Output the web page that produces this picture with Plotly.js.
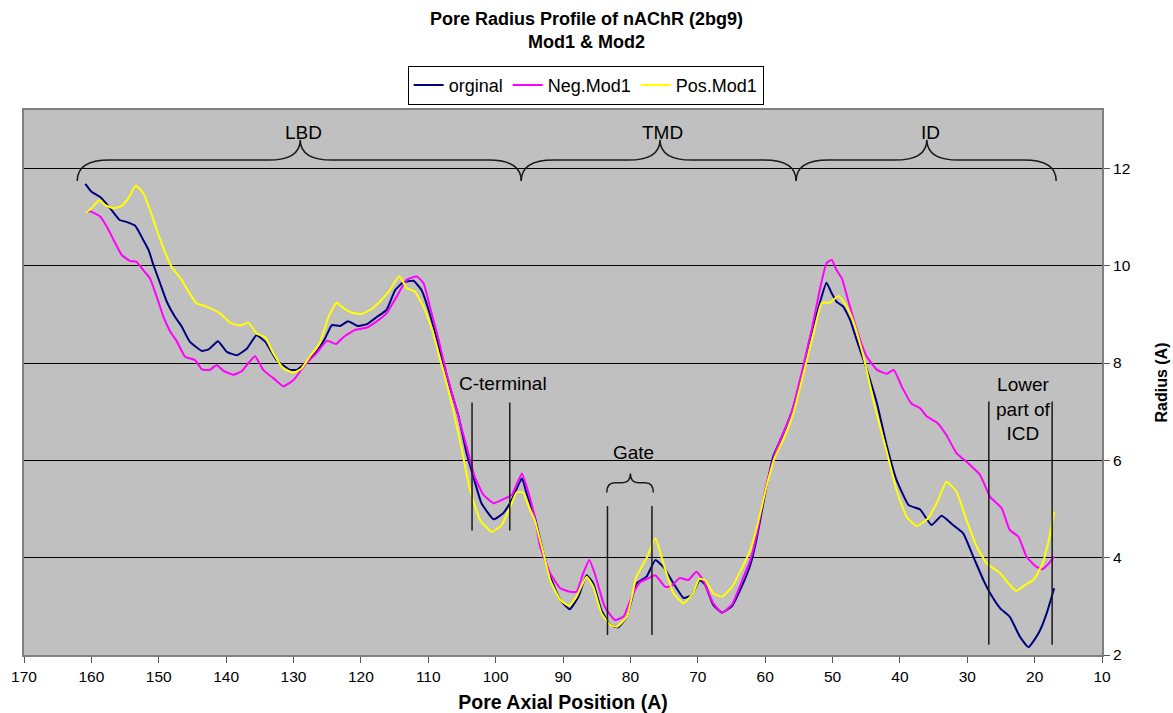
<!DOCTYPE html>
<html>
<head>
<meta charset="utf-8">
<script src="https://cdn.plot.ly/plotly-3.0.1.min.js"></script>
<style>
  html, body { margin: 0; padding: 0; background: #ffffff; }
  #chart { width: 1173px; height: 713px; }
</style>
</head>
<body>
<div id="chart"></div>
<script>
// Pore radius (A) against pore axial position (A) for nAChR 2bg9 and two modified models.
const posOriginal = [160.9, 160.0, 158.7, 157.2, 155.8, 154.8, 153.5, 152.3, 151.5, 150.8, 149.8, 148.8, 147.6, 146.6, 145.4, 143.6, 142.6, 141.2, 139.9, 138.4, 136.9, 135.5, 134.2, 132.5, 130.5, 129.5, 128.0, 126.6, 125.3, 124.3, 123.1, 121.9, 120.4, 119.1, 117.6, 116.2, 114.9, 113.7, 112.2, 111.0, 109.7, 108.3, 106.8, 105.5, 104.3, 103.3, 102.1, 100.3, 98.9, 97.6, 96.1, 95.4, 94.2, 92.9, 91.9, 90.4, 89.0, 87.7, 86.5, 85.5, 84.3, 83.0, 81.8, 80.5, 79.1, 77.6, 76.3, 75.1, 73.6, 72.1, 70.9, 69.7, 68.9, 67.7, 66.4, 64.9, 63.5, 62.2, 61.2, 60.0, 58.8, 57.5, 56.1, 54.6, 53.4, 51.9, 50.9, 50.1, 49.4, 48.4, 47.4, 46.4, 44.9, 43.4, 41.9, 40.5, 38.7, 37.0, 35.3, 33.8, 32.1, 30.6, 29.1, 27.6, 26.6, 25.1, 23.7, 22.2, 20.9, 19.4, 18.2, 17.1];
const radOriginal = [11.68, 11.52, 11.41, 11.18, 10.94, 10.90, 10.82, 10.53, 10.32, 10.02, 9.64, 9.26, 8.95, 8.75, 8.44, 8.25, 8.28, 8.45, 8.23, 8.16, 8.30, 8.57, 8.44, 8.06, 7.86, 7.86, 8.03, 8.23, 8.51, 8.78, 8.76, 8.86, 8.76, 8.80, 8.95, 9.09, 9.50, 9.66, 9.69, 9.50, 8.98, 8.27, 7.51, 6.90, 6.14, 5.66, 5.12, 4.79, 4.91, 5.19, 5.63, 5.32, 4.84, 4.09, 3.61, 3.13, 2.94, 3.20, 3.64, 3.47, 2.92, 2.62, 2.57, 2.79, 3.47, 3.61, 3.95, 3.81, 3.47, 3.17, 3.23, 3.54, 3.44, 3.03, 2.87, 3.01, 3.40, 3.85, 4.43, 5.32, 6.08, 6.49, 6.97, 7.72, 8.47, 9.23, 9.65, 9.43, 9.26, 9.16, 8.89, 8.47, 7.86, 7.17, 6.28, 5.60, 5.08, 4.99, 4.67, 4.86, 4.67, 4.50, 4.02, 3.54, 3.27, 2.96, 2.79, 2.38, 2.16, 2.45, 2.86, 3.37];

const posNeg = [160.8, 160.0, 158.7, 157.7, 156.7, 155.5, 154.3, 153.3, 152.3, 151.3, 150.3, 149.3, 148.3, 147.3, 146.1, 144.6, 143.6, 142.4, 141.4, 140.4, 138.9, 137.7, 136.7, 135.7, 134.5, 133.0, 131.5, 130.0, 128.3, 126.6, 125.0, 123.7, 122.6, 120.9, 119.1, 117.7, 116.2, 114.7, 113.2, 111.7, 110.7, 109.5, 108.5, 107.3, 105.8, 104.3, 103.1, 101.8, 100.3, 98.9, 97.6, 96.1, 95.1, 94.2, 93.4, 91.9, 90.4, 89.0, 88.0, 87.0, 86.1, 85.3, 83.8, 82.3, 81.0, 79.8, 78.6, 77.3, 76.3, 74.8, 73.9, 72.7, 71.4, 70.2, 69.2, 67.7, 66.4, 64.9, 63.5, 62.2, 61.2, 60.0, 58.5, 57.3, 56.1, 54.6, 53.1, 51.9, 50.9, 50.1, 49.4, 48.6, 47.7, 46.4, 44.9, 43.4, 41.9, 40.9, 39.7, 38.3, 37.0, 36.0, 34.5, 33.1, 31.6, 30.1, 28.1, 26.6, 24.9, 23.7, 22.4, 21.2, 19.9, 18.9, 17.9, 17.1];
const radNeg = [11.11, 11.11, 11.01, 10.80, 10.53, 10.22, 10.10, 10.08, 9.91, 9.74, 9.36, 8.95, 8.65, 8.44, 8.13, 8.06, 7.87, 7.86, 7.96, 7.84, 7.76, 7.83, 8.00, 8.14, 7.86, 7.69, 7.52, 7.65, 7.96, 8.20, 8.46, 8.39, 8.53, 8.68, 8.73, 8.85, 9.02, 9.36, 9.71, 9.78, 9.64, 9.02, 8.50, 7.79, 7.04, 6.28, 5.66, 5.29, 5.12, 5.20, 5.29, 5.73, 5.32, 4.84, 4.23, 3.68, 3.37, 3.30, 3.30, 3.68, 3.95, 3.68, 2.99, 2.72, 2.79, 3.20, 3.49, 3.58, 3.64, 3.40, 3.42, 3.58, 3.54, 3.71, 3.54, 3.06, 2.87, 3.04, 3.50, 3.95, 4.50, 5.39, 6.15, 6.56, 6.97, 7.79, 8.68, 9.50, 10.05, 10.12, 9.91, 9.74, 9.30, 8.68, 8.13, 7.86, 7.78, 7.86, 7.51, 7.17, 7.07, 6.90, 6.78, 6.52, 6.15, 5.97, 5.70, 5.25, 5.02, 4.57, 4.43, 4.02, 3.83, 3.76, 3.88, 4.02];

const posPos = [160.8, 160.0, 158.8, 158.0, 156.7, 155.5, 154.5, 153.4, 152.3, 151.3, 150.3, 149.3, 148.1, 146.6, 145.9, 144.4, 142.9, 140.9, 139.4, 137.9, 136.7, 135.5, 134.2, 133.0, 131.5, 130.0, 128.8, 127.6, 126.1, 124.8, 123.6, 122.6, 121.4, 119.9, 118.4, 117.2, 115.7, 114.3, 113.2, 112.0, 110.7, 109.4, 108.3, 107.8, 106.3, 105.0, 103.8, 102.3, 100.6, 99.1, 97.9, 96.9, 95.9, 95.1, 94.2, 92.9, 91.9, 90.4, 89.1, 88.0, 86.5, 85.5, 84.3, 83.0, 82.0, 80.5, 79.1, 77.6, 76.3, 75.1, 73.6, 72.1, 70.7, 69.8, 68.9, 67.7, 66.4, 64.9, 63.5, 62.2, 61.2, 59.8, 58.5, 57.3, 55.8, 54.3, 52.8, 51.6, 50.4, 49.1, 47.9, 46.9, 45.4, 43.7, 41.9, 40.5, 39.0, 37.5, 35.8, 34.3, 33.1, 31.6, 30.1, 28.6, 27.1, 25.1, 23.7, 22.7, 21.4, 20.2, 18.9, 17.9, 17.1];
const radPos = [11.09, 11.18, 11.35, 11.25, 11.18, 11.23, 11.39, 11.65, 11.49, 11.15, 10.74, 10.36, 9.98, 9.71, 9.54, 9.23, 9.16, 9.02, 8.83, 8.77, 8.83, 8.61, 8.53, 8.20, 7.89, 7.80, 7.89, 8.13, 8.41, 8.95, 9.24, 9.13, 9.04, 9.01, 9.11, 9.26, 9.50, 9.79, 9.54, 9.47, 9.16, 8.68, 8.10, 7.86, 7.04, 6.21, 5.39, 4.77, 4.53, 4.67, 5.02, 5.34, 5.34, 5.05, 4.77, 4.09, 3.54, 3.13, 3.01, 3.20, 3.61, 3.40, 2.86, 2.62, 2.58, 2.79, 3.61, 3.99, 4.40, 3.88, 3.27, 3.06, 3.27, 3.56, 3.54, 3.27, 3.20, 3.40, 3.77, 4.16, 4.64, 5.46, 6.08, 6.42, 6.97, 7.79, 8.61, 9.24, 9.24, 9.38, 9.16, 8.85, 8.13, 7.10, 6.15, 5.39, 4.84, 4.65, 4.81, 5.19, 5.56, 5.36, 4.77, 4.23, 3.88, 3.68, 3.44, 3.32, 3.44, 3.54, 3.85, 4.36, 4.95];

const seriesNames = ['orginal', 'Neg.Mod1', 'Pos.Mod1'];
const seriesColors = ['#000080', '#FF00FF', '#FFFF00'];
const xTicks = [170, 160, 150, 140, 130, 120, 110, 100, 90, 80, 70, 60, 50, 40, 30, 20, 10];
const yTicks = [2, 4, 6, 8, 10, 12];

const FONT = 'Liberation Sans, Arial, Helvetica, sans-serif';

const traces = [
  [posOriginal, radOriginal],
  [posNeg, radNeg],
  [posPos, radPos]
].map(([x, y], i) => ({
  type: 'scatter',
  mode: 'lines',
  x: x,
  y: y,
  name: seriesNames[i],
  line: { color: seriesColors[i], width: 2, shape: 'spline', smoothing: 0.4 },
  hoverinfo: 'x+y+name'
}));

// Horizontal curly brace in data units; the axis runs from high to low values.
function brace(xa, xb, xc, yEnd, yBar, yTip, r) {
  return `M ${xa},${yEnd} Q ${xa},${yBar} ${xa - r},${yBar} ` +
         `L ${xc + r},${yBar} Q ${xc},${yBar} ${xc},${yTip} ` +
         `Q ${xc},${yBar} ${xc - r},${yBar} ` +
         `L ${xb + r},${yBar} Q ${xb},${yBar} ${xb},${yEnd}`;
}

const braceLine = { color: '#1a1a1a', width: 1.5 };
const markLine = { color: '#1a1a1a', width: 1.5 };

function vline(x, y0, y1) {
  return { type: 'line', xref: 'x', yref: 'y', x0: x, x1: x, y0: y0, y1: y1, line: markLine };
}

const shapes = [
  { type: 'path', xref: 'x', yref: 'y', path: brace(162.1, 96.2, 129.0, 11.74, 12.17, 12.59, 4.8), line: braceLine },
  { type: 'path', xref: 'x', yref: 'y', path: brace(96.2, 55.4, 75.6, 11.74, 12.17, 12.59, 4.8), line: braceLine },
  { type: 'path', xref: 'x', yref: 'y', path: brace(55.4, 16.8, 36.0, 11.74, 12.17, 12.59, 4.8), line: braceLine },
  { type: 'path', xref: 'x', yref: 'y', path: brace(83.5, 76.6, 80.0, 5.34, 5.54, 5.73, 1.2), line: braceLine },
  vline(103.5, 4.56, 7.19), vline(97.9, 4.56, 7.19),
  vline(83.4, 2.41, 5.06), vline(76.8, 2.41, 5.06),
  vline(26.8, 2.21, 7.21), vline(17.4, 2.21, 7.21)
];

function label(text, x, y) {
  return { text: text, x: x, y: y, xref: 'x', yref: 'y', showarrow: false,
           font: { family: FONT, size: 19, color: '#000000' } };
}

const annotations = [
  label('LBD', 128.5, 12.73),
  label('TMD', 75.3, 12.73),
  label('ID', 35.4, 12.73),
  label('C-terminal', 98.9, 7.58),
  label('Gate', 79.6, 6.17),
  label('Lower<br>part of<br>ICD', 21.7, 7.06)
];

const layout = {
  width: 1173,
  height: 713,
  margin: { l: 24, r: 71, t: 110, b: 58 },
  paper_bgcolor: '#ffffff',
  plot_bgcolor: '#C0C0C0',
  font: { family: FONT, color: '#000000' },
  title: {
    text: '<b>Pore Radius Profile of nAChR (2bg9)<br>Mod1 & Mod2</b>',
    font: { family: FONT, size: 18, color: '#000000' },
    x: 0.5, xanchor: 'center',
    y: 0.965, yanchor: 'top', yref: 'container'
  },
  showlegend: true,
  legend: {
    orientation: 'h',
    x: 0.521, xanchor: 'center',
    y: 1.081, yanchor: 'top',
    bgcolor: '#ffffff',
    bordercolor: '#000000',
    borderwidth: 1,
    font: { family: FONT, size: 18, color: '#000000' },
    traceorder: 'normal'
  },
  xaxis: {
    range: [170, 10],
    tickmode: 'array',
    tickvals: xTicks,
    ticktext: xTicks.map(String),
    ticks: 'outside',
    ticklen: 6,
    tickwidth: 1,
    tickcolor: '#555555',
    showgrid: false,
    zeroline: false,
    showline: true,
    linecolor: '#808080',
    linewidth: 2,
    mirror: true,
    tickfont: { family: FONT, size: 15.5, color: '#000000' },
    title: { text: '<b>Pore Axial Position (A)</b>', font: { family: FONT, size: 19.5, color: '#000000' }, standoff: 13 }
  },
  yaxis: {
    range: [2, 13.2],
    side: 'right',
    tickmode: 'array',
    tickvals: yTicks,
    ticktext: yTicks.map(String),
    ticks: 'outside',
    ticklen: 6,
    tickwidth: 1,
    tickcolor: '#555555',
    showgrid: true,
    gridcolor: '#000000',
    gridwidth: 1,
    zeroline: false,
    showline: true,
    linecolor: '#808080',
    linewidth: 2,
    mirror: true,
    tickfont: { family: FONT, size: 15.5, color: '#000000' },
    title: { text: '<b>Radius (A)</b>', font: { family: FONT, size: 16, color: '#000000' }, standoff: 26 }
  },
  shapes: shapes,
  annotations: annotations
};

Plotly.newPlot('chart', traces, layout, { displayModeBar: false, responsive: false });
</script>
</body>
</html>
